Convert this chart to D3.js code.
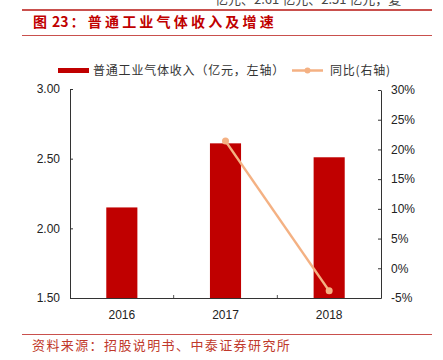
<!DOCTYPE html>
<html lang="zh">
<head>
<meta charset="UTF-8">
<title>普通工业气体收入及增速</title>
<script src="https://d3js.org/d3.v7.min.js"></script>
<style>
  html, body { margin: 0; background: #fff; }
  svg { display: block; font-family: "Noto Sans CJK SC", sans-serif; }
  .num { font-family: "Liberation Sans", Arial, sans-serif; }
</style>
</head>
<body>
<svg id="chart" width="443" height="360"></svg>
<script>
const years = ["2016", "2017", "2018"];
const revenue = [2.15, 2.61, 2.51];        // 亿元, left axis
const growth = [null, 21.4, -3.8];          // %, right axis
const leftTicks = [1.5, 2.0, 2.5, 3.0];
const rightTicks = [-5, 0, 5, 10, 15, 20, 25, 30];

const svg = d3.select("#chart");
const plot = { left: 70, right: 381, top: 89, bottom: 298 };

const barColor = "#c00000";
const lineColor = "#f4b183";
const redLine = "#c9504d";

// cut-off text from the page above (it is clipped in the reference too)
svg.append("text")
  .attr("x", 215).attr("y", 3.5)
  .attr("font-size", 13).attr("fill", "#444")
  .text("亿元、2.61 亿元、2.51 亿元，复");

// title block
svg.append("line").attr("x1", 22).attr("x2", 432).attr("y1", 10).attr("y2", 10)
  .attr("stroke", redLine).attr("stroke-width", 2);
const title = svg.append("text")
  .attr("x", 33).attr("y", 27)
  .attr("font-size", 14).attr("font-weight", "bold").attr("fill", "#c00000");
title.append("tspan").text("图");
title.append("tspan").attr("dx", 5).text("23");
title.append("tspan").attr("dx", 2).attr("letter-spacing", 3.2).text("：普通工业气体收入及增速");
svg.append("line").attr("x1", 22).attr("x2", 432).attr("y1", 35.5).attr("y2", 35.5)
  .attr("stroke", redLine).attr("stroke-width", 1);

// source
svg.append("line").attr("x1", 22).attr("x2", 432).attr("y1", 334.5).attr("y2", 334.5)
  .attr("stroke", redLine).attr("stroke-width", 1);
svg.append("text")
  .attr("x", 32).attr("y", 350)
  .attr("font-size", 13).attr("fill", "#c0392b")
  .attr("letter-spacing", 1.4)
  .text("资料来源：招股说明书、中泰证券研究所");

// scales
const x = d3.scaleBand().domain(years).range([plot.left, plot.right]).padding(0);
const yL = d3.scaleLinear().domain([1.5, 3.0]).range([plot.bottom, plot.top]);
const yR = d3.scaleLinear().domain([-5, 30]).range([plot.bottom, plot.top + 1]);
const bw = x.bandwidth() * 0.3;

// bars
svg.append("g").selectAll("rect")
  .data(years)
  .join("rect")
  .attr("x", d => x(d) + (x.bandwidth() - bw) / 2)
  .attr("width", bw)
  .attr("y", (d, i) => yL(revenue[i]))
  .attr("height", (d, i) => yL(1.5) - yL(revenue[i]))
  .attr("fill", barColor);

// axes
const leftAxis = svg.append("g")
  .attr("transform", `translate(${plot.left},0)`)
  .call(d3.axisLeft(yL).tickValues(leftTicks).tickFormat(d3.format(".2f")).tickSizeInner(-3).tickSizeOuter(0).tickPadding(10));
const rightAxis = svg.append("g")
  .attr("transform", `translate(${plot.right},0)`)
  .call(d3.axisRight(yR).tickValues(rightTicks).tickFormat(d => d + "%").tickSizeInner(-3).tickSizeOuter(0).tickPadding(10));
const bottomAxis = svg.append("g")
  .attr("transform", `translate(0,${plot.bottom})`)
  .call(d3.axisBottom(x).tickSize(0).tickPadding(10));

[leftAxis, rightAxis, bottomAxis].forEach(g => {
  g.selectAll("text").attr("class", "num").attr("font-size", 12).attr("fill", "#222");
  g.select(".domain").attr("stroke", "#333");
  g.selectAll(".tick line").attr("stroke", "#333");
});
bottomAxis.selectAll("text").attr("dy", "0.9em");

// category separator ticks on x axis
svg.append("g").selectAll("line")
  .data(years.slice(1))
  .join("line")
  .attr("x1", d => x(d)).attr("x2", d => x(d))
  .attr("y1", plot.bottom).attr("y2", plot.bottom - 3)
  .attr("stroke", "#555");

// growth line
const pts = years.map((y, i) => ({ year: y, v: growth[i] })).filter(d => d.v !== null);
const line = d3.line()
  .x(d => x(d.year) + x.bandwidth() / 2)
  .y(d => yR(d.v));
svg.append("path")
  .datum(pts)
  .attr("d", line)
  .attr("fill", "none")
  .attr("stroke", lineColor)
  .attr("stroke-width", 2.5);
svg.append("g").selectAll("circle")
  .data(pts)
  .join("circle")
  .attr("cx", d => x(d.year) + x.bandwidth() / 2)
  .attr("cy", d => yR(d.v))
  .attr("r", 3.5)
  .attr("fill", lineColor);

// legend
const legend = svg.append("g").attr("font-size", 12).attr("fill", "#333");
legend.append("rect").attr("x", 58).attr("y", 68).attr("width", 31).attr("height", 5).attr("fill", barColor);
legend.append("text").attr("x", 93).attr("y", 75).attr("letter-spacing", 0.8).text("普通工业气体收入（亿元，左轴）");
legend.append("line").attr("x1", 292).attr("x2", 323).attr("y1", 70.5).attr("y2", 70.5)
  .attr("stroke", lineColor).attr("stroke-width", 2.5);
legend.append("circle").attr("cx", 307.5).attr("cy", 70.5).attr("r", 3).attr("fill", lineColor);
legend.append("text").attr("x", 330).attr("y", 75).attr("letter-spacing", 0.8).text("同比(右轴)");
</script>
</body>
</html>
